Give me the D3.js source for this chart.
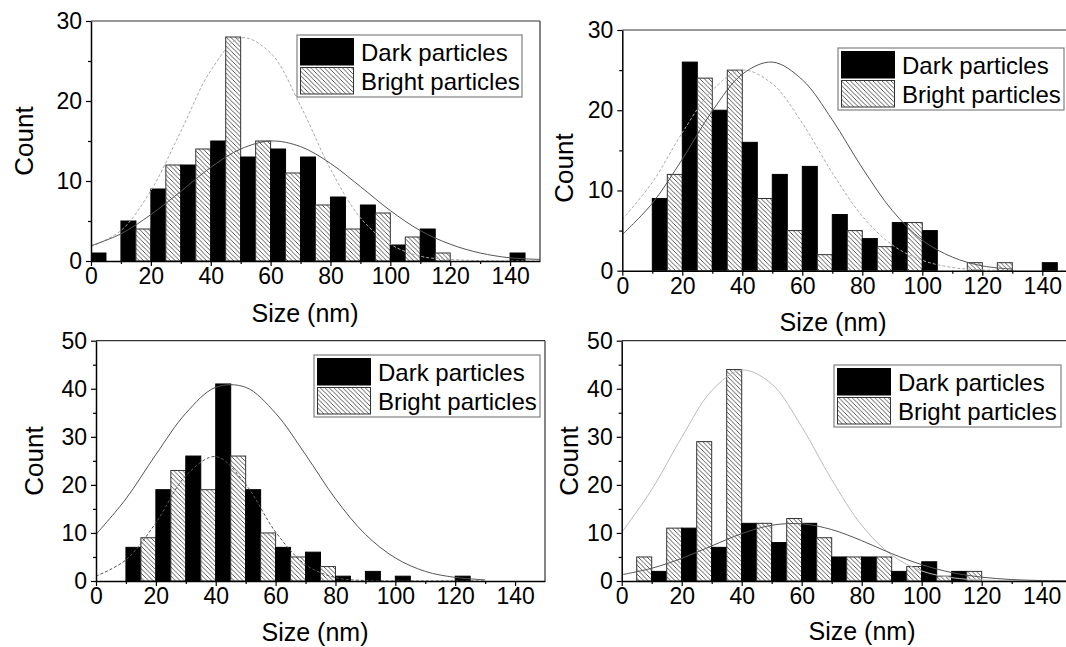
<!DOCTYPE html>
<html><head><meta charset="utf-8">
<script src="https://cdn.jsdelivr.net/npm/d3@7"></script>
<style>
body{margin:0;background:#fff}
svg{display:block}
text{font-family:"Liberation Sans",Arial,Helvetica,sans-serif;fill:#000}
</style>
</head><body>
<svg id="c" width="1066" height="647"></svg>
<script>
// ---------- DATA ----------
const binStarts = [0,10,20,30,40,50,60,70,80,90,100,110,120,130,140];
const seriesNames = ["Dark particles","Bright particles"];
const xTitle = "Size (nm)";
const yTitle = "Count";
const xTickValues = [0,20,40,60,80,100,120,140];

// Panel A (top-left)
const aDark   = [1,5,9,12,15,13,14,13,8,7,2,4,0,0,1];
const aBright = [0,4,12,14,28,15,11,7,4,6,3,1,0,0,0];
const aFitX      = [0,10,20,30,40,50,60,70,80,90,100,110,120,130,140,150];
const aDarkFit   = [1.9,3.4,5.8,8.7,11.7,14.0,15.0,14.3,12.2,9.3,6.3,3.8,2.1,1.0,0.4,0.2];
const aBrightFit = [1.8,3.8,8.8,16.2,23.8,27.9,26.0,19.4,11.5,5.4,2.1,0.6,0.2,0.05,0,0];
const aYTicks = [0,10,20,30];

// Panel B (top-right)
const bDark   = [0,9,26,20,16,12,13,7,4,6,5,0,0,0,1];
const bBright = [0,12,24,25,9,5,2,5,3,6,0,1,1,0,0];
const bFitX      = [0,10,20,30,40,50,60,70,80,90,100,110,120,130];
const bDarkFit   = [4.5,8.4,13.9,19.9,24.5,26.0,23.8,18.8,12.8,7.5,3.8,1.7,0.6,0.2];
const bBrightFit = [6.4,11.0,17.2,22.5,25.0,23.3,18.4,12.2,6.8,3.2,1.3,0.4,0.1,0.03];
const bYTicks = [0,10,20,30];

// Panel C (bottom-left)
const cDark   = [0,7,19,26,41,19,7,6,1,2,1,0,1,0,0];
const cBright = [0,9,23,19,26,10,5,3,0,0,0,0,0,0,0];
const cFitX      = [0,10,20,30,40,50,60,70,80,90,100,110,120,130];
const cDarkFit   = [9.7,17.1,26.3,34.9,40.3,40.3,34.9,26.3,17.1,9.7,4.8,2.0,0.75,0.24];
const cBrightFit = [1.0,4.4,12.1,21.9,25.9,20.1,10.2,3.4,0.7,0.1,0,0,0,0];
const cYTicks = [0,10,20,30,40,50];

// Panel D (bottom-right)
const dDark   = [0,2,11,7,12,8,12,5,5,2,4,2,0,0,0];
const dBright = [5,11,29,44,12,13,9,5,5,3,1,2,0,0,0];
const dFitX      = [0,10,20,30,40,50,60,70,80,90,100,110,120,130,140,150];
const dDarkFit   = [1.3,2.65,4.7,7.3,9.85,11.6,11.9,10.7,8.4,5.7,3.4,1.76,0.8,0.3,0.1,0.03];
const dBrightFit = [10.1,19.0,29.9,39.6,43.9,41.0,32.1,21.1,11.6,5.4,2.1,0.7,0.2,0.05,0,0];
const dYTicks = [0,10,20,30,40,50];

// ---------- LAYOUT ----------
const panels = [
  {dark:aDark,bright:aBright,fitX:aFitX,darkFit:aDarkFit,brightFit:aBrightFit,yTicks:aYTicks,
   x0:91,x1:540,yTop:21,yBot:261,
   darkFitStyle:{stroke:"#555",dash:null},brightFitStyle:{stroke:"#aaa",dash:"3,2"},
   legend:{x:297,y:35,w:225,h:62}, yTitle:{x:33,y:141}, xTitle:{x:305,y:322}},
  {dark:bDark,bright:bBright,fitX:bFitX,darkFit:bDarkFit,brightFit:bBrightFit,yTicks:bYTicks,
   x0:622.3,x1:1072.3,yTop:30,yBot:270.7,
   darkFitStyle:{stroke:"#555",dash:null},brightFitStyle:{stroke:"#aaa",dash:"3,2"},
   legend:{x:838,y:48,w:226,h:62}, yTitle:{x:573,y:168}, xTitle:{x:833,y:331}},
  {dark:cDark,bright:cBright,fitX:cFitX,darkFit:cDarkFit,brightFit:cBrightFit,yTicks:cYTicks,
   x0:96,x1:545,yTop:340.7,yBot:581,
   darkFitStyle:{stroke:"#555",dash:null},brightFitStyle:{stroke:"#555",dash:"3,2"},
   legend:{x:314,y:355,w:226,h:62}, yTitle:{x:43,y:461}, xTitle:{x:315,y:641}},
  {dark:dDark,bright:dBright,fitX:dFitX,darkFit:dDarkFit,brightFit:dBrightFit,yTicks:dYTicks,
   x0:621.7,x1:1071.7,yTop:340.7,yBot:581,
   darkFitStyle:{stroke:"#555",dash:null},brightFitStyle:{stroke:"#bbb",dash:null},
   legend:{x:834,y:365,w:227,h:62}, yTitle:{x:578,y:461}, xTitle:{x:862,y:640}}
];

const svg = d3.select("#c");
const defs = svg.append("defs");
const pat = defs.append("pattern").attr("id","hatch").attr("patternUnits","userSpaceOnUse")
  .attr("width",4.5).attr("height",4.5);
pat.append("rect").attr("width",4.5).attr("height",4.5).attr("fill","#fff");
pat.append("path").attr("d","M-1,-1 L5.5,5.5 M-1,3.5 L1,5.5 M3.5,-1 L5.5,1")
  .attr("stroke","#444").attr("stroke-width",0.9);

panels.forEach((p,i)=>{
  const g = svg.append("g");
  const xs = d3.scaleLinear().domain([0,150]).range([p.x0,p.x1]);
  const yMax = p.yTicks[p.yTicks.length-1];
  const ys = d3.scaleLinear().domain([0,yMax]).range([p.yBot,p.yTop]);

  defs.append("clipPath").attr("id","clip"+i).append("rect")
    .attr("x",p.x0).attr("y",p.yTop).attr("width",p.x1-p.x0).attr("height",p.yBot-p.yTop);

  const plot = g.append("g").attr("clip-path",`url(#clip${i})`);

  // bars
  const barData = [];
  binStarts.forEach((b,k)=>{
    if(p.dark[k]>0) barData.push({x:b,w:5,v:p.dark[k],t:"d"});
    if(p.bright[k]>0) barData.push({x:b+5,w:5,v:p.bright[k],t:"b"});
  });
  plot.selectAll("rect.bar").data(barData).enter().append("rect")
    .attr("x",d=>xs(d.x)).attr("width",d=>xs(d.x+d.w)-xs(d.x))
    .attr("y",d=>ys(d.v)).attr("height",d=>ys(0)-ys(d.v))
    .attr("fill",d=>d.t==="d"?"#000":"url(#hatch)")
    .attr("stroke",d=>d.t==="d"?"#000":"#333").attr("stroke-width",1);

  // fit curves
  const line = d3.line().x(d=>xs(d[0])).y(d=>ys(d[1])).curve(d3.curveCatmullRom);
  [[p.brightFit,p.brightFitStyle],[p.darkFit,p.darkFitStyle]].forEach(([vals,st])=>{
    plot.append("path").datum(p.fitX.map((x,k)=>[x,vals[k]]))
      .attr("d",line).attr("fill","none").attr("stroke",st.stroke).attr("stroke-width",1)
      .attr("stroke-dasharray",st.dash);
  });

  // frame top/right
  g.append("line").attr("x1",p.x0).attr("x2",p.x1).attr("y1",p.yTop).attr("y2",p.yTop)
    .attr("stroke","#333").attr("stroke-width",1.2);
  g.append("line").attr("x1",p.x1).attr("x2",p.x1).attr("y1",p.yTop).attr("y2",p.yBot)
    .attr("stroke","#333").attr("stroke-width",1.2);

  // axes
  const minorY = p.yTicks.slice(0,-1).map(v=>v+(p.yTicks[1]-p.yTicks[0])/2);
  const yAx = g.append("g").attr("transform",`translate(${p.x0},0)`)
    .call(d3.axisLeft(ys).tickValues(p.yTicks).tickSize(5).tickSizeOuter(0).tickPadding(4));
  g.append("g").attr("transform",`translate(${p.x0},0)`)
    .call(d3.axisLeft(ys).tickValues(minorY).tickSize(3).tickFormat(""))
    .select(".domain").remove();
  const xAx = g.append("g").attr("transform",`translate(0,${p.yBot})`)
    .call(d3.axisBottom(xs).tickValues(xTickValues).tickSize(5).tickSizeOuter(0).tickPadding(2));
  g.append("g").attr("transform",`translate(0,${p.yBot})`)
    .call(d3.axisBottom(xs).tickValues([10,30,50,70,90,110,130]).tickSize(3).tickFormat(""))
    .select(".domain").remove();
  g.selectAll(".tick line").attr("stroke","#000").attr("stroke-width",1.2);
  g.selectAll(".domain").attr("stroke","#000").attr("stroke-width",1.5);
  g.selectAll(".tick text").attr("font-size",23).attr("font-family",null);

  // axis titles
  g.append("text").attr("transform",`translate(${p.yTitle.x},${p.yTitle.y}) rotate(-90)`)
    .attr("text-anchor","middle").attr("font-size",26).text(yTitle);
  g.append("text").attr("x",p.xTitle.x).attr("y",p.xTitle.y)
    .attr("text-anchor","middle").attr("font-size",25).text(xTitle);

  // legend
  const L = p.legend;
  const lg = g.append("g");
  lg.append("rect").attr("x",L.x).attr("y",L.y).attr("width",L.w).attr("height",L.h)
    .attr("fill","#fff").attr("stroke","#808080").attr("stroke-width",1.2);
  const rowH = (L.h-6)/2;
  seriesNames.forEach((nm,k)=>{
    const sy = L.y+3+k*(rowH+1);
    lg.append("rect").attr("x",L.x+3.5).attr("y",sy+0.5).attr("width",53).attr("height",rowH-1.5)
      .attr("fill",k===0?"#000":"url(#hatch)").attr("stroke",k===0?"#000":"#333");
    lg.append("text").attr("x",L.x+64).attr("y",sy+rowH/2+8.5).attr("font-size",24).text(nm);
  });
});
</script>
</body></html>
